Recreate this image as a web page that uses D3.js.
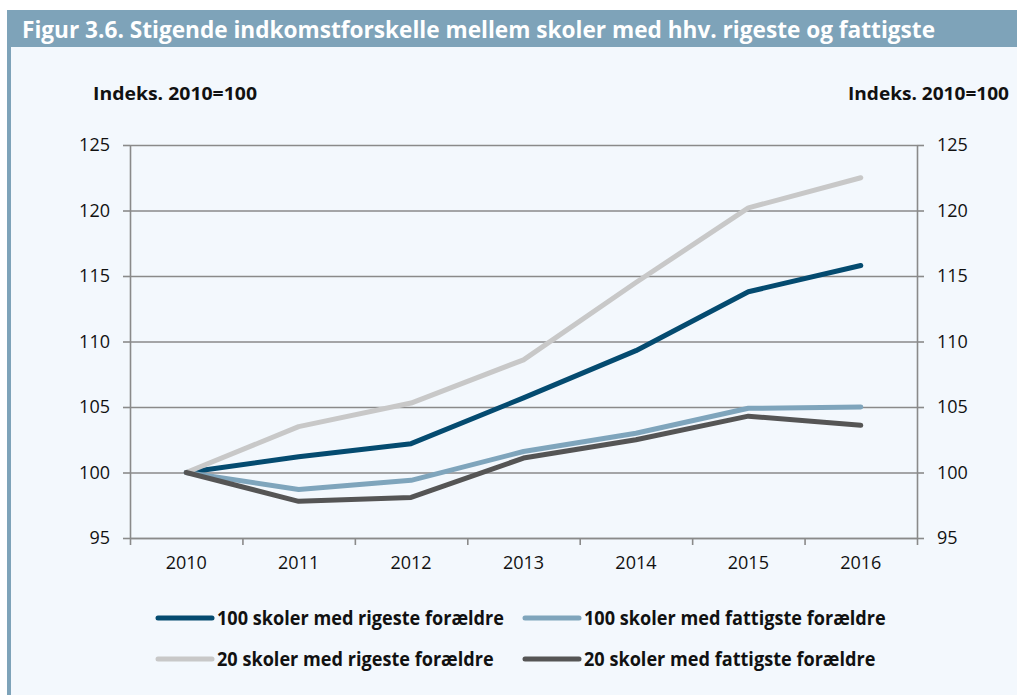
<!DOCTYPE html>
<html>
<head>
<meta charset="utf-8">
<script src="https://cdn.jsdelivr.net/npm/d3@7"></script>
<style>
  body { margin: 0; background: #fff; }
  svg { display: block; }
  text { font-family: "Open Sans", "Noto Sans", sans-serif; }
</style>
</head>
<body>
<main></main>
<script>
const width = 1017;
const height = 695;

// data
const years = [2010, 2011, 2012, 2013, 2014, 2015, 2016];
const rich100 = [100, 101.2, 102.2, 105.7, 109.3, 113.8, 115.8];
const poor100 = [100, 98.7, 99.4, 101.6, 103.0, 104.9, 105.0];
const rich20 = [100, 103.5, 105.3, 108.6, 114.5, 120.2, 122.5];
const poor20 = [100, 97.8, 98.1, 101.1, 102.5, 104.3, 103.6];
const seriesNames = [
  '100 skoler med rigeste forældre',
  '100 skoler med fattigste forældre',
  '20 skoler med rigeste forældre',
  '20 skoler med fattigste forældre'
];
const seriesColors = ['#044b70', '#7fa5bc', '#c8c8c8', '#555555'];
const yTicks = [95, 100, 105, 110, 115, 120, 125];
const title = 'Figur 3.6. Stigende indkomstforskelle mellem skoler med hhv. rigeste og fattigste';
const axisTitle = 'Indeks. 2010=100';

const series = [rich100, poor100, rich20, poor20].map((vals, i) => ({
  name: seriesNames[i],
  color: seriesColors[i],
  values: vals.map((v, j) => ({ year: years[j], value: v }))
}));

const svg = d3.select('main').append('svg')
  .attr('width', width)
  .attr('height', height);

// frame: title bar, left stripe, light panel
svg.append('rect').attr('x', 7).attr('y', 10).attr('width', width - 7).attr('height', 37).attr('fill', '#7ea3b9');
svg.append('rect').attr('x', 7).attr('y', 47).attr('width', 4).attr('height', height - 47).attr('fill', '#7ea3b9');
svg.append('rect').attr('x', 11).attr('y', 47).attr('width', width - 11).attr('height', height - 47).attr('fill', '#f3f8fd');

svg.append('text')
  .attr('x', 22).attr('y', 38)
  .attr('fill', '#fff')
  .attr('font-size', 23)
  .attr('font-weight', 700)
  .attr('textLength', 913)
  .attr('lengthAdjust', 'spacingAndGlyphs')
  .text(title);

const x = d3.scaleBand().domain(years).range([130, 917]);
const edges = d3.scaleLinear().domain([0, years.length]).range([130, 917]);
const y = d3.scaleLinear().domain([95, 125]).range([538, 145]);

const gridColor = '#8a8a8a';

// horizontal grid
svg.append('g')
  .attr('transform', 'translate(130,0)')
  .call(d3.axisLeft(y).tickValues(yTicks).tickSize(-787).tickFormat(''))
  .call(g => g.select('.domain').remove())
  .call(g => g.selectAll('line').attr('stroke', gridColor).attr('stroke-width', 1.6));

// left axis
svg.append('g')
  .attr('transform', 'translate(130,0)')
  .call(d3.axisLeft(y).tickValues(yTicks).tickSize(7).tickPadding(13).tickSizeOuter(0))
  .call(g => g.select('.domain').attr('stroke', gridColor).attr('stroke-width', 1.6))
  .call(g => g.selectAll('line').attr('stroke', gridColor).attr('stroke-width', 1.6))
  .call(g => g.selectAll('text').attr('font-size', 18).attr('fill', '#111').attr('font-family', '"Open Sans", sans-serif'));

// right axis
svg.append('g')
  .attr('transform', 'translate(917,0)')
  .call(d3.axisRight(y).tickValues(yTicks).tickSize(7).tickPadding(13).tickSizeOuter(0))
  .call(g => g.select('.domain').attr('stroke', gridColor).attr('stroke-width', 1.6))
  .call(g => g.selectAll('line').attr('stroke', gridColor).attr('stroke-width', 1.6))
  .call(g => g.selectAll('text').attr('font-size', 18).attr('fill', '#111').attr('font-family', '"Open Sans", sans-serif'));

// bottom axis: tick marks on band edges, labels in band centres
svg.append('g')
  .attr('transform', 'translate(0,538)')
  .call(d3.axisBottom(edges).ticks(years.length).tickSize(7).tickFormat('').tickSizeOuter(0))
  .call(g => g.select('.domain').attr('stroke', gridColor).attr('stroke-width', 1.6))
  .call(g => g.selectAll('line').attr('stroke', gridColor).attr('stroke-width', 1.6));

svg.append('g')
  .attr('transform', 'translate(0,538)')
  .call(d3.axisBottom(x).tickSize(0).tickPadding(18))
  .call(g => g.select('.domain').remove())
  .call(g => g.selectAll('text').attr('font-size', 18).attr('fill', '#111').attr('font-family', '"Open Sans", sans-serif'));

// axis titles
svg.append('text')
  .attr('x', 93).attr('y', 100)
  .attr('font-size', 18).attr('font-weight', 700).attr('fill', '#111')
  .attr('textLength', 164).attr('lengthAdjust', 'spacingAndGlyphs')
  .text(axisTitle);
svg.append('text')
  .attr('x', 848).attr('y', 100)
  .attr('font-size', 18).attr('font-weight', 700).attr('fill', '#111')
  .attr('textLength', 161).attr('lengthAdjust', 'spacingAndGlyphs')
  .text(axisTitle);

// lines
const line = d3.line()
  .x(d => x(d.year) + x.bandwidth() / 2)
  .y(d => y(d.value));

svg.append('g')
  .selectAll('path')
  .data(series)
  .enter()
  .append('path')
  .attr('d', d => line(d.values))
  .attr('fill', 'none')
  .attr('stroke', d => d.color)
  .attr('stroke-width', 5)
  .attr('stroke-linecap', 'round')
  .attr('stroke-linejoin', 'round');

// legend
const legendCols = [158, 525];
const legendRows = [618, 659];
const legend = svg.append('g')
  .selectAll('g')
  .data(series)
  .enter()
  .append('g')
  .attr('transform', (d, i) => 'translate(' + legendCols[i % 2] + ',' + legendRows[Math.floor(i / 2)] + ')');

legend.append('line')
  .attr('x1', 0).attr('x2', 54)
  .attr('y1', 0).attr('y2', 0)
  .attr('stroke', d => d.color)
  .attr('stroke-width', 5)
  .attr('stroke-linecap', 'round');

const legendText = legend.append('text')
  .attr('x', 59).attr('y', 7)
  .attr('font-size', 20).attr('font-weight', 700).attr('fill', '#111')
  .text(d => d.name);

// squeeze the legend labels so the first one is as wide as in the original
const firstWidth = legendText.node().getComputedTextLength();
const squeeze = 287 / firstWidth;
legendText.each(function () {
  const w = this.getComputedTextLength();
  d3.select(this).attr('textLength', w * squeeze).attr('lengthAdjust', 'spacingAndGlyphs');
});
</script>
</body>
</html>
